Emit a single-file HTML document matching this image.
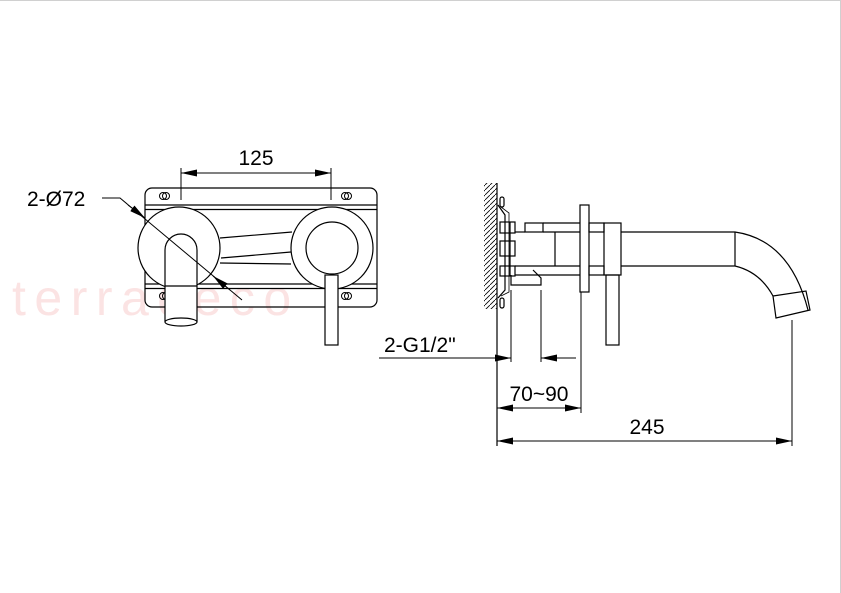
<!DOCTYPE html>
<html><head><meta charset="utf-8"><style>
html,body{margin:0;padding:0;background:#fff}
svg{display:block}
text{font-family:"Liberation Sans",Arial,sans-serif}
</style></head><body>
<svg width="841" height="593" viewBox="0 0 841 593" xmlns="http://www.w3.org/2000/svg">
<defs>
<marker id="a" viewBox="0 0 16 7" refX="16" refY="3.5" markerWidth="16" markerHeight="7" markerUnits="userSpaceOnUse" orient="auto"><path d="M0,0 L16,3.5 L0,7z" fill="#000"/></marker>
<pattern id="h" width="5" height="5" patternUnits="userSpaceOnUse"><path d="M0,5 L5,0" stroke="#000" stroke-width="0.8"/></pattern>
</defs>
<rect x="0" y="0" width="841" height="593" fill="#fff"/>
<line x1="0" y1="0.5" x2="841" y2="0.5" stroke="#d0d0d0" stroke-width="1"/>
<line x1="840.5" y1="0" x2="840.5" y2="593" stroke="#d0d0d0" stroke-width="1"/>
<text x="12" y="315" font-size="50" fill="#fbe3e3" letter-spacing="8.5">terradeco</text>
<g fill="none" stroke="#000" stroke-width="1.2">
<rect x="145" y="188" width="232" height="119" rx="7"/>
<line x1="145" y1="205" x2="377" y2="205"/><line x1="145" y1="209.5" x2="377" y2="209.5"/>
<line x1="145" y1="284" x2="377" y2="284"/><line x1="145" y1="288.5" x2="377" y2="288.5"/>
<g stroke-width="1"><circle cx="163" cy="196" r="3.5"/><circle cx="166" cy="196" r="3.5"/><circle cx="348" cy="196" r="3.5"/><circle cx="345" cy="196" r="3.5"/><circle cx="163" cy="296" r="3.5"/><circle cx="166" cy="296" r="3.5"/><circle cx="348" cy="296" r="3.5"/><circle cx="345" cy="296" r="3.5"/></g>
<circle cx="179" cy="248" r="41" fill="#fff"/>
<circle cx="332" cy="248" r="41" fill="#fff"/>
<path d="M220,238 L292,232 M221,258 L291,252 M220,263 L291,264"/>
<circle cx="332" cy="248" r="26"/>
<rect x="325" y="275" width="13" height="70" fill="#fff"/>
<path d="M165,322 L165,250 A16,16 0 0 1 197,250 L197,322" fill="#fff"/>
<line x1="165" y1="286" x2="197" y2="286"/>
<ellipse cx="181" cy="322" rx="16" ry="4" fill="#fff"/>
<line x1="181" y1="168" x2="181" y2="200" stroke-width="1"/><line x1="331" y1="168" x2="331" y2="200" stroke-width="1"/>
<line x1="200" y1="173" x2="181" y2="173" marker-end="url(#a)" stroke-width="1"/>
<line x1="200" y1="173" x2="312" y2="173" stroke-width="1"/>
<line x1="312" y1="173" x2="331" y2="173" marker-end="url(#a)" stroke-width="1"/>
<path d="M102,198 L120,198 L242,300" stroke-width="1"/>
<line x1="128" y1="205" x2="145" y2="218" marker-end="url(#a)" stroke-width="1"/>
<line x1="230" y1="290" x2="213" y2="276" marker-end="url(#a)" stroke-width="1"/>
<rect x="484" y="183" width="13" height="126" fill="url(#h)" stroke="none"/>
<line x1="497" y1="183" x2="497" y2="446"/>
<path d="M498,205 L505,215 L505,290 L498,298"/>
<path d="M501,207 L509,213 L509,292 L501,296" stroke-width="0.8"/>
<rect x="500" y="197" width="4" height="10" rx="2"/><rect x="500" y="298" width="4" height="10" rx="2"/>
<rect x="500" y="222" width="15" height="11"/><rect x="500" y="241" width="15" height="15"/><rect x="500" y="266" width="15" height="10"/>
<line x1="510" y1="222" x2="510" y2="276"/>
<rect x="525" y="223" width="18" height="9"/>
<line x1="543" y1="223" x2="580" y2="223"/><line x1="543" y1="232" x2="580" y2="232"/>
<line x1="515" y1="232" x2="525" y2="232"/>
<line x1="515" y1="266" x2="580" y2="266"/>
<line x1="515" y1="275" x2="580" y2="275"/>
<line x1="555" y1="232" x2="555" y2="266"/>
<path d="M511,275 L511,285 L541,285 L541,278 L533,270"/>
<rect x="580" y="205" width="9" height="87" fill="#fff"/>
<rect x="589" y="223" width="15" height="9"/><rect x="589" y="266" width="15" height="9"/>
<rect x="604" y="223" width="17" height="52"/>
<rect x="606" y="275" width="13" height="70"/>
<path d="M621,232 L735,232 Q790,240 808,310 M621,266 L735,266 Q760,272 773,296"/>
<line x1="735" y1="232" x2="735" y2="266"/>
<path d="M773,296 L806,291 L810,310 L776,318 Z"/>
<g stroke-width="1">
<line x1="511" y1="290" x2="511" y2="362"/><line x1="541" y1="290" x2="541" y2="362"/>
<line x1="581" y1="292" x2="581" y2="413"/><line x1="792" y1="320" x2="792" y2="446"/>
<line x1="379" y1="358" x2="497" y2="358"/>
<line x1="494" y1="358" x2="511" y2="358" marker-end="url(#a)"/>
<line x1="576" y1="358" x2="541" y2="358"/>
<line x1="560" y1="358" x2="541" y2="358" marker-end="url(#a)"/>
<line x1="530" y1="408" x2="497" y2="408" marker-end="url(#a)"/>
<line x1="530" y1="408" x2="581" y2="408" marker-end="url(#a)"/>
<line x1="640" y1="441" x2="497" y2="441" marker-end="url(#a)"/>
<line x1="640" y1="441" x2="792" y2="441" marker-end="url(#a)"/>
</g>
</g>
<g font-size="21" fill="#000">
<text x="256" y="165" text-anchor="middle">125</text>
<text x="27" y="206">2-Ø72</text>
<text x="384" y="352">2-G1/2"</text>
<text x="539" y="401" text-anchor="middle">70~90</text>
<text x="647" y="434" text-anchor="middle">245</text>
</g>
</svg>
</body></html>
